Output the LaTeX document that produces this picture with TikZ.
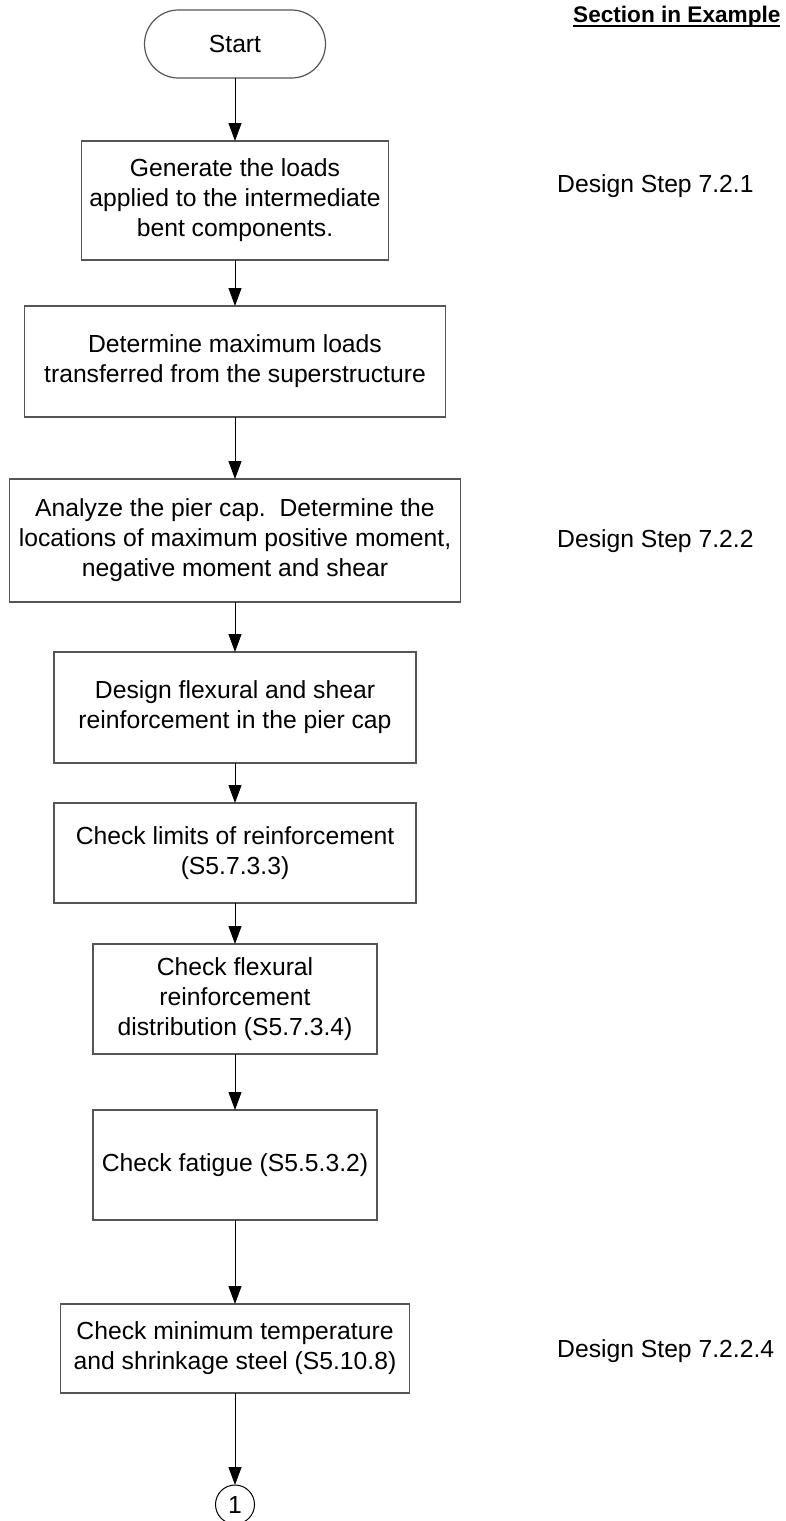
\documentclass[tikz,border=0pt]{standalone}
\usepackage{fontspec}
\setmainfont{Liberation Sans}
\usepackage{tikz}
\usetikzlibrary{arrows.meta,positioning}
\definecolor{edgegray}{HTML}{555555}
\definecolor{inkblack}{HTML}{000000}
\newcommand{\ulsec}[1]{\setbox0\hbox{#1}\rlap{\rule[-4.5pt]{\wd0}{1.8pt}}\box0}
\tikzset{
  stepbox/.style={
    rectangle, draw=edgegray, line width=1.2pt, fill=white,
    font=\fontsize{24.7}{30}\selectfont, align=center,
    inner sep=0pt, outer sep=0pt
  },
  startbox/.style={
    rectangle, rounded corners=34pt, draw=edgegray, line width=1.2pt,
    minimum width=181pt, minimum height=68pt,
    font=\fontsize{24.7}{30}\selectfont, inner sep=0pt, outer sep=0pt
  },
  linkcircle/.style={
    circle, draw=inkblack, line width=1pt, minimum size=39pt,
    font=\fontsize{24.7}{30}\selectfont, inner sep=0pt, outer sep=0pt
  },
  flowarrow/.style={
    -{Triangle[length=18pt, width=13pt]}, line width=1pt, color=#1
  },
  flowarrow/.default=inkblack,
  steplabel/.style={
    font=\fontsize{24.7}{30}\selectfont, anchor=base west, inner sep=0pt
  },
}

\begin{document}
\begin{tikzpicture}
  \useasboundingbox (0,0) rectangle (785pt,-1521pt);

  % ── Flow chart ────────────────
  \node[startbox] (start) at (235pt,-44pt) {Start};
  \node[stepbox, minimum width=307pt, minimum height=119pt,
    below=63pt of start] (loads)
    {Generate the loads\\applied to the intermediate\\bent components.};
  \node[stepbox, minimum width=421pt, minimum height=111pt,
    below=46pt of loads] (super)
    {Determine maximum loads\\transferred from the superstructure};
  \node[stepbox, minimum width=451pt, minimum height=123pt,
    below=62pt of super] (analyze)
    {Analyze the pier cap.\ \ Determine the\\locations of maximum positive moment,\\negative moment and shear};
  \node[stepbox, minimum width=362pt, minimum height=111pt,
    below=50pt of analyze] (flex)
    {Design flexural and shear\\reinforcement in the pier cap};
  \node[stepbox, minimum width=362pt, minimum height=100pt,
    below=40pt of flex] (limits)
    {Check limits of reinforcement\\(S5.7.3.3)};
  \node[stepbox, minimum width=284pt, minimum height=110pt,
    below=41pt of limits] (distr)
    {Check flexural\\reinforcement\\distribution (S5.7.3.4)};
  \node[stepbox, minimum width=284pt, minimum height=110pt,
    below=56pt of distr] (fatigue) {Check fatigue (S5.5.3.2)};
  \node[stepbox, minimum width=349pt, minimum height=89pt,
    below=84pt of fatigue] (shrink)
    {Check minimum temperature\\and shrinkage steel (S5.10.8)};
  \node[linkcircle, below=92pt of shrink] (cont) {1};

  \draw[flowarrow] (start) -- (loads);
  \draw[flowarrow] (loads) -- (super);
  \draw[flowarrow] (super) -- (analyze);
  \draw[flowarrow] (analyze) -- (flex);
  \draw[flowarrow] (flex) -- (limits);
  \draw[flowarrow] (limits) -- (distr);
  \draw[flowarrow] (distr) -- (fatigue);
  \draw[flowarrow] (fatigue) -- (shrink);
  \draw[flowarrow] (shrink) -- (cont);

  % ── Sections ────────────────
  \node[steplabel, font=\fontsize{22.6}{27}\selectfont\bfseries] (sec)
    at (573pt,-22pt) {\ulsec{Section in Example}};
  \node[steplabel] (ds1) at (557pt,-192pt) {Design Step 7.2.1};
  \node[steplabel] (ds2) at (557pt,-547pt) {Design Step 7.2.2};
  \node[steplabel] (ds3) at (557pt,-1357pt) {Design Step 7.2.2.4};
\end{tikzpicture}
\end{document}
